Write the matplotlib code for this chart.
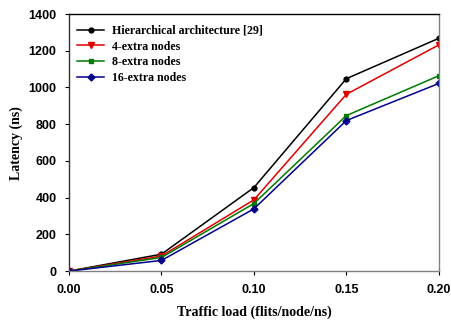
import matplotlib
matplotlib.use("Agg")
import matplotlib.pyplot as plt

# ── Data ──────────────────────────────────────────────────────────────────────
load = [0.00, 0.05, 0.10, 0.15, 0.20]

hierarchical = [0, 92, 455, 1048, 1268]
extra_4 = [0, 82, 388, 963, 1232]
extra_8 = [0, 74, 368, 847, 1064]
extra_16 = [0, 58, 339, 820, 1022]

labels = ["Hierarchical architecture [29]", "4-extra nodes",
          "8-extra nodes", "16-extra nodes"]
x_ticks = [0.00, 0.05, 0.10, 0.15, 0.20]
y_ticks = [0, 200, 400, 600, 800, 1000, 1200, 1400]

# ── Figure ────────────────────────────────────────────────────────────────────
fig = plt.figure(figsize=(4.51, 3.27), dpi=100)
ax = fig.add_axes([0.153, 0.171, 0.820, 0.786])

styles = [
    (hierarchical, "black", "o", 3.5),
    (extra_4, "#e00000", "v", 4.0),
    (extra_8, "#007a00", "s", 3.5),
    (extra_16, "#00008c", "D", 3.5),
]
for (vals, color, marker, ms), label in zip(styles, labels):
    ax.plot(load, vals, color=color, marker=marker, markersize=ms,
            linewidth=1.1, label=label)

ax.set_xlim(0, 0.20)
ax.set_ylim(0, 1400)
ax.set_xticks(x_ticks)
ax.set_xticklabels([f"{t:.2f}" for t in x_ticks],
                   fontfamily="Liberation Sans", fontweight="bold", fontsize=9)
ax.set_yticks(y_ticks)
ax.set_yticklabels([str(t) for t in y_ticks],
                   fontfamily="Liberation Sans", fontweight="bold", fontsize=9)
ax.tick_params(direction="out", length=3, width=0.8, pad=6)

ax.spines["top"].set_color("black")
ax.spines["left"].set_color("#333333")
ax.spines["right"].set_color("#808080")
ax.spines["bottom"].set_color("#808080")
for s in ax.spines.values():
    s.set_linewidth(1.0)

ax.set_xlabel("Traffic load (flits/node/ns)", fontfamily="Liberation Serif",
              fontweight="bold", fontsize=10, labelpad=7)
ax.set_ylabel("Latency (ns)", fontfamily="Liberation Serif",
              fontweight="bold", fontsize=10, labelpad=4)

ax.legend(loc="upper left", bbox_to_anchor=(0.0, 0.99), frameon=False,
          handlelength=2.2, borderaxespad=0.3, labelspacing=0.3,
          handletextpad=0.7,
          prop={"family": "Liberation Serif", "weight": "bold", "size": 8.6})

fig.savefig("out.png", dpi=100)
